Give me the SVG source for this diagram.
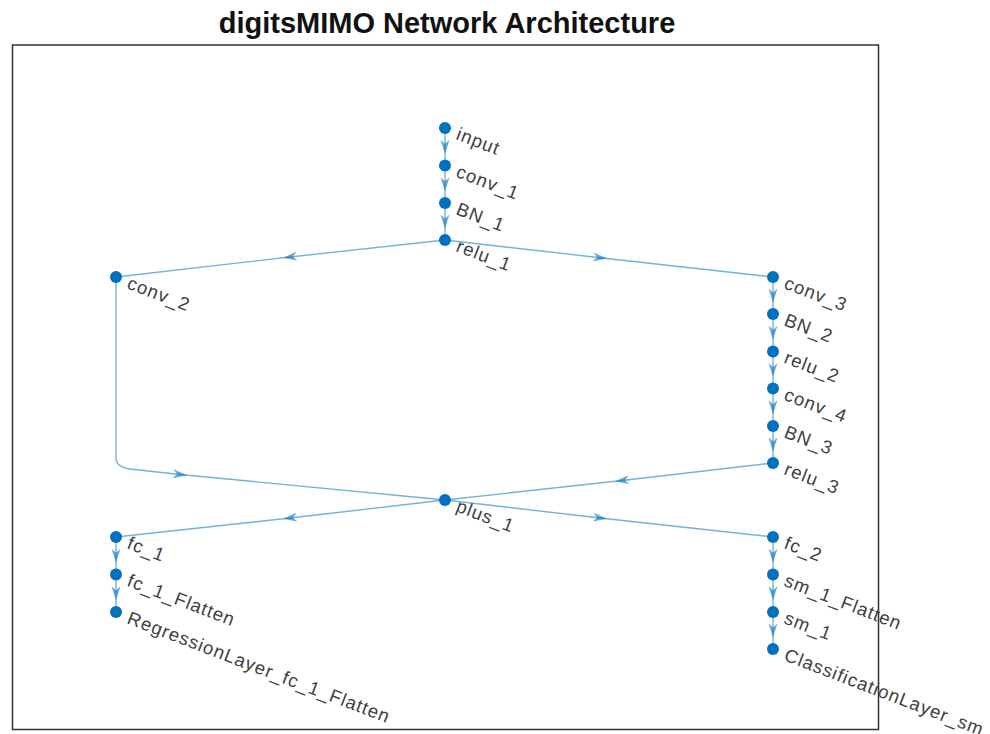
<svg xmlns="http://www.w3.org/2000/svg" width="990" height="734" viewBox="0 0 990 734">
<style>
.edge{fill:none;stroke:#0072BD;stroke-opacity:0.55;stroke-width:1.4;marker-mid:url(#arr)}
.plain{fill:none;stroke:#0072BD;stroke-opacity:0.55;stroke-width:1.4}
.node circle{fill:#0072BD}
.node text{font-family:"Liberation Sans",Arial,sans-serif;font-size:18.5px;letter-spacing:1px;fill:#404040}
.title{font-family:"Liberation Sans",Arial,sans-serif;font-size:29px;font-weight:bold;fill:#111}
</style>
<defs>
<marker id="arr" viewBox="-7 -5 14 10" refX="0" refY="0" markerWidth="14" markerHeight="10" markerUnits="userSpaceOnUse" orient="auto">
<path d="M7,0 L-7,-4.5 L-3,0 L-7,4.5 Z" fill="#0072BD" fill-opacity="0.6"/>
</marker>
</defs>
<rect width="990" height="734" fill="#fff"/>
<text class="title" x="447" y="33" text-anchor="middle">digitsMIMO Network Architecture</text>
<rect x="12.5" y="45" width="866" height="684.5" fill="none" stroke="#333" stroke-width="1.5"/>
<g id="connectors">
<polyline class="edge" points="445,128 445,146.75 445,165.5"/>
<polyline class="edge" points="445,165.5 445,184.25 445,203"/>
<polyline class="edge" points="445,203 445,221.5 445,240"/>
<polyline class="edge" points="445,240 290,257 116,277"/>
<polyline class="edge" points="445,240 600,257.7 773,277"/>
<polyline class="edge" points="773,277 773,295.5 773,314"/>
<polyline class="edge" points="773,314 773,332.75 773,351.5"/>
<polyline class="edge" points="773,351.5 773,370 773,388.5"/>
<polyline class="edge" points="773,388.5 773,407.25 773,426"/>
<polyline class="edge" points="773,426 773,444.5 773,463"/>
<path class="plain" d="M116,277 L116,458 Q116,467 130,469"/>
<polyline class="edge" points="130,469 180,474.5 445,500"/>
<polyline class="edge" points="773,463 622,480.5 445,500"/>
<polyline class="edge" points="445,500 290,518 116,537"/>
<polyline class="edge" points="445,500 600,518 773,537"/>
<polyline class="edge" points="116,537 116,555.75 116,574.5"/>
<polyline class="edge" points="116,574.5 116,593.25 116,612"/>
<polyline class="edge" points="773,537 773,555.75 773,574.5"/>
<polyline class="edge" points="773,574.5 773,593.25 773,612"/>
<polyline class="edge" points="773,612 773,630.5 773,649"/>
</g>
<g id="input" class="node"><circle cx="445" cy="128" r="6"/><text x="455" y="139" transform="rotate(21 455 139)">input</text></g>
<g id="conv_1" class="node"><circle cx="445" cy="165.5" r="6"/><text x="455" y="176.5" transform="rotate(21 455 176.5)">conv_1</text></g>
<g id="BN_1" class="node"><circle cx="445" cy="203" r="6"/><text x="455" y="214" transform="rotate(21 455 214)">BN_1</text></g>
<g id="relu_1" class="node"><circle cx="445" cy="240" r="6"/><text x="455" y="251" transform="rotate(21 455 251)">relu_1</text></g>
<g id="conv_2" class="node"><circle cx="116" cy="277" r="6"/><text x="126" y="288" transform="rotate(21 126 288)">conv_2</text></g>
<g id="conv_3" class="node"><circle cx="773" cy="277" r="6"/><text x="783" y="288" transform="rotate(21 783 288)">conv_3</text></g>
<g id="BN_2" class="node"><circle cx="773" cy="314" r="6"/><text x="783" y="325" transform="rotate(21 783 325)">BN_2</text></g>
<g id="relu_2" class="node"><circle cx="773" cy="351.5" r="6"/><text x="783" y="362.5" transform="rotate(21 783 362.5)">relu_2</text></g>
<g id="conv_4" class="node"><circle cx="773" cy="388.5" r="6"/><text x="783" y="399.5" transform="rotate(21 783 399.5)">conv_4</text></g>
<g id="BN_3" class="node"><circle cx="773" cy="426" r="6"/><text x="783" y="437" transform="rotate(21 783 437)">BN_3</text></g>
<g id="relu_3" class="node"><circle cx="773" cy="463" r="6"/><text x="783" y="474" transform="rotate(21 783 474)">relu_3</text></g>
<g id="plus_1" class="node"><circle cx="445" cy="500" r="6"/><text x="455" y="511" transform="rotate(21 455 511)">plus_1</text></g>
<g id="fc_1" class="node"><circle cx="116" cy="537" r="6"/><text x="126" y="548" transform="rotate(21 126 548)">fc_1</text></g>
<g id="fc_1_Flatten" class="node"><circle cx="116" cy="574.5" r="6"/><text x="126" y="585.5" transform="rotate(21 126 585.5)">fc_1_Flatten</text></g>
<g id="RegressionLayer_fc_1_Flatten" class="node"><circle cx="116" cy="612" r="6"/><text x="126" y="623" transform="rotate(21 126 623)">RegressionLayer_fc_1_Flatten</text></g>
<g id="fc_2" class="node"><circle cx="773" cy="537" r="6"/><text x="783" y="548" transform="rotate(21 783 548)">fc_2</text></g>
<g id="sm_1_Flatten" class="node"><circle cx="773" cy="574.5" r="6"/><text x="783" y="585.5" transform="rotate(21 783 585.5)">sm_1_Flatten</text></g>
<g id="sm_1" class="node"><circle cx="773" cy="612" r="6"/><text x="783" y="623" transform="rotate(21 783 623)">sm_1</text></g>
<g id="ClassificationLayer_sm_1" class="node"><circle cx="773" cy="649" r="6"/><text x="783" y="660" transform="rotate(21 783 660)">ClassificationLayer_sm_1</text></g>
</svg>
